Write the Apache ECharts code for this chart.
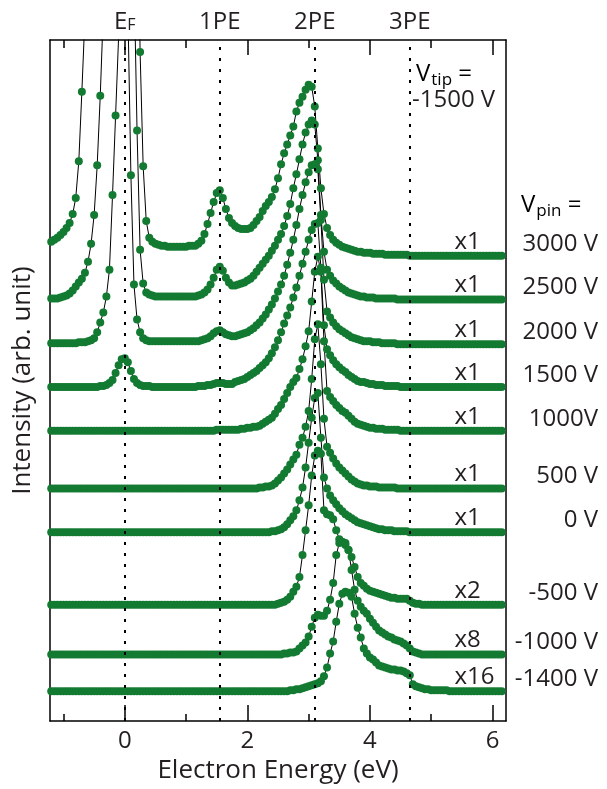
<!DOCTYPE html>
<html>
<head>
<meta charset="utf-8">
<script src="https://cdn.jsdelivr.net/npm/echarts@6/dist/echarts.min.js"></script>
<style>
html,body{margin:0;padding:0;background:#fff}
#chart{width:607px;height:789px}
</style>
</head>
<body>
<div id="chart"></div>
<script>
// Energy grid of the spectra (eV)
const energy = [-1.2,-1.15,-1.1,-1.05,-1,-0.95,-0.9,-0.85,-0.8,-0.75,-0.7,-0.65,-0.6,-0.55,-0.5,-0.45,-0.4,-0.35,-0.3,-0.25,-0.2,-0.15,-0.1,-0.05,0,0.05,0.1,0.15,0.2,0.25,0.3,0.35,0.4,0.45,0.5,0.55,0.6,0.65,0.7,0.75,0.8,0.85,0.9,0.95,1,1.05,1.1,1.15,1.2,1.25,1.3,1.35,1.4,1.45,1.5,1.55,1.6,1.65,1.7,1.75,1.8,1.85,1.9,1.95,2,2.05,2.1,2.15,2.2,2.25,2.3,2.35,2.4,2.45,2.5,2.55,2.6,2.65,2.7,2.75,2.8,2.85,2.9,2.95,3,3.05,3.1,3.15,3.2,3.25,3.3,3.35,3.4,3.45,3.5,3.55,3.6,3.65,3.7,3.75,3.8,3.85,3.9,3.95,4,4.05,4.1,4.15,4.2,4.25,4.3,4.35,4.4,4.45,4.5,4.55,4.6,4.65,4.7,4.75,4.8,4.85,4.9,4.95,5,5.05,5.1,5.15,5.2,5.25,5.3,5.35,5.4,5.45,5.5,5.55,5.6,5.65,5.7,5.75,5.8,5.85,5.9,5.95,6,6.05,6.1,6.15];

// Pin voltages, display multipliers and vertical offsets of each trace
const vpinLabels = ['3000 V','2500 V','2000 V','1500 V','1000V','500 V','0 V','-500 V','-1000 V','-1400 V'];
const scaleLabels = ['x1','x1','x1','x1','x1','x1','x1','x2','x8','x16'];
const offsets = [468,424,379,336,292,234,190,117,67,30];

// Intensities (arb. unit, above each trace's baseline)
const i3000 = [14,16,18,21,24,28,33,42,58,95, 165,240,330,430,520,600,680,740,790,830, 860,880,890,880,860,820,750,600,420,205, 90,35,18,14,12,11,10,10,9,9, 9,9,9,9,9,10,10,10,12,15, 22,32,43,54,63,66,58,47,38,33, 30,28,27,27,27,28,31,35,39,45, 50,54,59,67,78,92,103,112,121,130, 145,154,160,167,172,170,150,108,68,42, 28,21,16,13,11,9,8,7,6,5, 4,4,3,3,3,2,2,2,2,1, 1,1,1,1,1,1,1,0,0,0, 0,0,0,0,0,0,0,0,0,0, 0,0,0,0,0,0,0,0,0,0, 0,0,0,0,0,0,0,0];
const i2500 = [1,1,1,2,3,4,6,9,13,17, 21,27,38,56,85,135,205,290,380,460, 540,600,640,660,650,600,480,330,170,50, 16,7,5,4,3,3,3,3,3,3, 3,3,3,3,3,3,3,3,4,5, 7,10,15,22,30,33,29,22,17,14, 14,15,16,17,19,21,24,28,32,36, 40,44,49,54,60,66,74,84,96,112, 126,141,156,168,176,180,176,140,85,48, 30,24,19,16,13,11,9,7,6,5, 4,3,3,2,2,2,1,1,1,1, 1,1,1,0,0,0,0,0,0,0, 0,0,0,0,0,0,0,0,0,0, 0,0,0,0,0,0,0,0,0,0, 0,0,0,0,0,0,0,0];
const i2000 = [1,1,1,1,1,1,1,1,1,2, 2,2,3,4,6,12,22,32,48,75, 150,230,310,400,420,340,170,60,25,12, 6,4,3,3,3,3,3,3,3,3, 3,3,3,3,3,3,3,3,3,4, 5,6,8,11,13,14,12,10,9,8, 8,9,10,11,12,14,16,19,22,26, 30,35,40,46,53,60,69,80,92,105, 120,136,150,163,173,180,181,176,125,65, 33,27,22,18,15,13,11,9,7,6, 5,4,3,3,3,2,2,2,1,1, 1,1,1,0,0,0,0,0,0,0, 0,0,0,0,0,0,0,0,0,0, 0,0,0,0,0,0,0,0,0,0, 0,0,0,0,0,0,0,0];
const i1500 = [0,0,0,0,0,0,0,0,0,0, 0,0,0,0,0,0,1,1,2,4, 7,14,22,28,29,25,16,8,4,2, 1,1,1,0,0,0,0,0,0,0, 0,0,0,0,0,0,0,0,1,1, 1,2,2,3,4,4,4,3,3,3, 5,6,7,8,10,12,14,16,19,22, 25,29,34,40,47,55,64,72,80,90, 100,112,124,136,148,158,164,165,120,62, 38,32,27,23,20,17,15,12,10,8, 6,5,5,4,3,3,2,2,2,1, 1,1,1,1,0,0,0,0,0,0, 0,0,0,0,0,0,0,0,0,0, 0,0,0,0,0,0,0,0,0,0, 0,0,0,0,0,0,0,0];
const i1000 = [0,0,0,0,0,0,0,0,0,0, 0,0,0,0,0,0,0,0,0,0, 0,0,0,0,0,0,0,0,0,0, 0,0,0,0,0,0,0,0,0,0, 0,0,0,0,0,0,0,0,0,0, 0,0,0,0,1,1,1,1,1,1, 1,1,2,2,3,3,4,4,5,7, 9,11,13,17,22,26,32,38,44,49, 53,62,72,85,100,130,160,175,160,90, 40,34,30,26,23,20,18,15,12,9, 7,6,5,4,3,3,2,2,2,1, 1,1,1,1,0,0,0,0,0,0, 0,0,0,0,0,0,0,0,0,0, 0,0,0,0,0,0,0,0,0,0, 0,0,0,0,0,0,0,0];
const i500 = [0,0,0,0,0,0,0,0,0,0, 0,0,0,0,0,0,0,0,0,0, 0,0,0,0,0,0,0,0,0,0, 0,0,0,0,0,0,0,0,0,0, 0,0,0,0,0,0,0,0,0,0, 0,0,0,0,0,0,0,0,0,0, 0,0,0,0,0,0,0,0,1,1, 2,2,3,5,8,11,15,19,24,29, 34,44,51,62,78,110,150,165,125,70, 42,36,30,25,21,18,15,12,9,7, 5,4,3,3,2,2,2,1,1,1, 1,1,1,0,0,0,0,0,0,0, 0,0,0,0,0,0,0,0,0,0, 0,0,0,0,0,0,0,0,0,0, 0,0,0,0,0,0,0,0];
const i0 = [0,0,0,0,0,0,0,0,0,0, 0,0,0,0,0,0,0,0,0,0, 0,0,0,0,0,0,0,0,0,0, 0,0,0,0,0,0,0,0,0,0, 0,0,0,0,0,0,0,0,0,0, 0,0,0,0,0,0,0,0,0,0, 0,0,0,0,0,0,0,0,0,0, 0,0,1,1,2,3,5,8,12,16, 22,32,45,65,90,115,135,140,95,55, 44,37,32,28,24,21,18,16,14,12, 10,9,8,7,6,5,4,3,3,2, 2,2,1,1,1,1,1,0,0,0, 0,0,0,0,0,0,0,0,0,0, 0,0,0,0,0,0,0,0,0,0, 0,0,0,0,0,0,0,0];
const iM500 = [0,0,0,0,0,0,0,0,0,0, 0,0,0,0,0,0,0,0,0,0, 0,0,0,0,0,0,0,0,0,0, 0,0,0,0,0,0,0,0,0,0, 0,0,0,0,0,0,0,0,0,0, 0,0,0,0,0,0,0,0,0,0, 0,0,0,0,0,0,0,0,0,0, 0,0,0,0,1,2,3,5,8,13, 18,28,50,75,100,130,150,155,152,95, 91,90,86,75,66,63,60,55,48,38, 28,22,19,16,14,13,12,11,10,9, 8,7,7,6,6,6,6,4,2,1, 1,0,0,0,0,0,0,0,0,0, 0,0,0,0,0,0,0,0,0,0, 0,0,0,0,0,0,0,0];
const iM1000 = [0,0,0,0,0,0,0,0,0,0, 0,0,0,0,0,0,0,0,0,0, 0,0,0,0,0,0,0,0,0,0, 0,0,0,0,0,0,0,0,0,0, 0,0,0,0,0,0,0,0,0,0, 0,0,0,0,0,0,0,0,0,0, 0,0,0,0,0,0,0,0,0,0, 0,0,0,0,0,0,1,1,2,2, 3,6,9,12,18,28,37,40,39,39, 44,55,72,100,112,113,112,105,85,65, 54,48,44,41,36,32,28,24,22,20, 18,17,15,14,13,11,9,6,3,2, 1,0,0,0,0,0,0,0,0,0, 0,0,0,0,0,0,0,0,0,0, 0,0,0,0,0,0,0,0];
const iM1400 = [0,0,0,0,0,0,0,0,0,0, 0,0,0,0,0,0,0,0,0,0, 0,0,0,0,0,0,0,0,0,0, 0,0,0,0,0,0,0,0,0,0, 0,0,0,0,0,0,0,0,0,0, 0,0,0,0,0,0,0,0,0,0, 0,0,0,0,0,0,0,0,0,0, 0,0,0,0,0,0,0,0,1,1, 2,2,3,4,5,6,7,8,10,15, 24,38,50,70,88,98,100,99,95,78, 64,54,43,38,34,32,29,26,25,24, 23,22,22,21,21,20,18,16,7,5, 4,3,2,2,1,1,1,1,1,1, 0,0,0,0,0,0,0,0,0,0, 0,0,0,0,0,0,0,0];
const spectra = [i3000,i2500,i2000,i1500,i1000,i500,i0,iM500,iM1000,iM1400];

// Multiphoton reference energies (photon energy 1.55 eV)
const photonLines = [0, 1.55, 3.1, 4.65];
const photonNames = ['EF','1PE','2PE','3PE'];
const majorTicks = [0, 2, 4, 6];
const minorTicks = [-1, 1, 3, 5];

const X_MIN = -1.22, X_MAX = 6.22, Y_MAX = 685;
const FONT = '"Open Sans", "Noto Sans", sans-serif';
const TEXT = '#231f20';
const GREEN = '#137a32';

const chart = echarts.init(document.getElementById('chart'), null, {renderer: 'canvas'});

function xAxisDef(pos, ticks, len, withLine, labels) {
  return {
    type: 'value', position: pos, min: X_MIN, max: X_MAX,
    splitLine: {show: false},
    axisLine: {show: withLine, onZero: false, lineStyle: {color: '#000', width: 1.5}},
    axisTick: {show: true, inside: true, length: len, customValues: ticks, lineStyle: {color: '#000', width: 1.5}},
    axisLabel: labels || {show: false}
  };
}

function yAxisDef(pos) {
  return {
    type: 'value', min: 0, max: Y_MAX, position: pos,
    splitLine: {show: false},
    axisLine: {show: true, onZero: false, lineStyle: {color: '#000', width: 1.5}},
    axisTick: {show: false}, axisLabel: {show: false}
  };
}

const series = spectra.map((vals, k) => ({
  type: 'line',
  name: vpinLabels[k],
  xAxisIndex: 0, yAxisIndex: 0,
  data: vals.map((v, i) => [energy[i], offsets[k] + v]),
  symbol: 'circle', symbolSize: 8, showSymbol: true,
  clip: true,
  itemStyle: {color: GREEN},
  lineStyle: {color: '#000', width: 1},
  animation: false,
  silent: true
}));

series[0].markLine = {
  silent: true, symbol: 'none', animation: false,
  label: {show: false},
  lineStyle: {color: '#000', type: [3, 8], width: 2},
  data: photonLines.map(v => ({xAxis: v}))
};

const leftAxis = yAxisDef('left');
leftAxis.name = 'Intensity (arb. unit)';
leftAxis.nameLocation = 'middle';
leftAxis.nameGap = 14;
leftAxis.nameTextStyle = {color: TEXT, fontFamily: FONT, fontSize: 26};

const bottomAxis = xAxisDef('bottom', majorTicks, 16, true, {
  show: true, customValues: majorTicks, margin: 8,
  color: TEXT, fontFamily: FONT, fontSize: 24
});
bottomAxis.name = 'Electron Energy (eV)';
bottomAxis.nameLocation = 'middle';
bottomAxis.nameGap = 35;
bottomAxis.nameTextStyle = {color: TEXT, fontFamily: FONT, fontSize: 26};

const option = {
  animation: false,
  backgroundColor: '#fff',
  grid: {left: 50, right: 101, top: 40, bottom: 64, containLabel: false},
  xAxis: [
    bottomAxis,
    xAxisDef('bottom', minorTicks, 7, false),
    xAxisDef('top', majorTicks, 15, true, {
      show: true, customValues: photonLines, margin: 6,
      color: TEXT, fontFamily: FONT, fontSize: 24,
      formatter: v => {
        const k = photonLines.findIndex(p => Math.abs(p - v) < 1e-6);
        return k === 0 ? '{e|E}{f|F}' : photonNames[k];
      },
      rich: {
        e: {fontFamily: FONT, fontSize: 24, color: TEXT},
        f: {fontFamily: FONT, fontSize: 16, color: TEXT, verticalAlign: 'bottom', padding: [0, 0, 1, 0]}
      }
    }),
    xAxisDef('top', minorTicks, 8, false)
  ],
  yAxis: [leftAxis, yAxisDef('right')],
  series: series
};

chart.setOption(option);

// Trace annotations placed from each trace's baseline through the axis scales
const texts = [];
spectra.forEach((vals, k) => {
  const inner = chart.convertToPixel({gridIndex: 0}, [5.38, offsets[k]]);
  const outer = chart.convertToPixel({gridIndex: 0}, [X_MAX, offsets[k]]);
  texts.push({
    type: 'text', x: inner[0], y: inner[1] - 14, silent: true,
    style: {text: scaleLabels[k], fill: TEXT, font: '24px ' + FONT, align: 'left', verticalAlign: 'middle'}
  });
  texts.push({
    type: 'text', x: outer[0] + 92, y: outer[1] - 12, silent: true,
    style: {text: vpinLabels[k], fill: TEXT, font: '24px ' + FONT, align: 'right', verticalAlign: 'middle'}
  });
});
const rich = {
  v: {fontFamily: FONT, fontSize: 24, color: TEXT, lineHeight: 28, verticalAlign: 'bottom'},
  s: {fontFamily: FONT, fontSize: 17, color: TEXT, lineHeight: 28, verticalAlign: 'bottom', padding: [0, 0, -3, 1]}
};
texts.push({
  type: 'text', x: 416, y: 72, silent: true,
  style: {text: '{v|V}{s|tip}{v| =}', rich: rich, verticalAlign: 'middle', align: 'left'}
});
texts.push({
  type: 'text', x: 412, y: 100, silent: true,
  style: {text: '-1500 V', fill: TEXT, font: '24px ' + FONT, align: 'left', verticalAlign: 'middle'}
});
texts.push({
  type: 'text', x: 521, y: 203, silent: true,
  style: {text: '{v|V}{s|pin}{v| =}', rich: rich, verticalAlign: 'middle', align: 'left'}
});
chart.setOption({graphic: {elements: texts}});
</script>
</body>
</html>
